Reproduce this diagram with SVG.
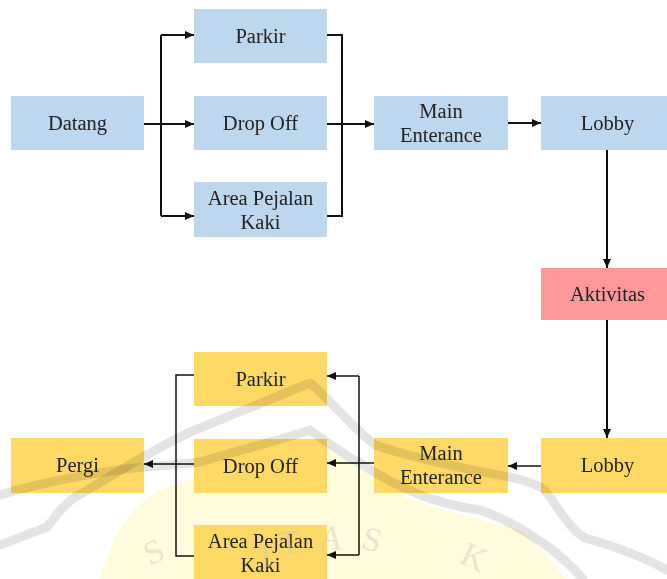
<svg xmlns="http://www.w3.org/2000/svg" width="667" height="579" viewBox="0 0 667 579">
  <style>
    .label { font-family: 'Liberation Serif', Tinos, 'Times New Roman', Times, 'DejaVu Serif', serif; font-size: 20.5px; fill: #222; text-anchor: middle; }
    .blue { fill: #BDD7EE; }
    .yellow { fill: #FFD966; }
    .red { fill: #FF9999; }
    .top path { fill: none; stroke: #111; stroke-width: 2; }
    .bottom path { fill: none; stroke: #111; stroke-width: 1.5; }
    .wm-band { fill: none; stroke: #9c9c9c; stroke-width: 9; stroke-linecap: round; stroke-linejoin: round; opacity: 0.28; mix-blend-mode: multiply; }
    .wm-letter { font-family: 'Liberation Serif', 'DejaVu Serif', serif; font-size: 34px; fill: #c4c4c4; opacity: 0.4; }
  </style>
  <defs>
    <marker id="arrow" viewBox="0 0 9 8" refX="9" refY="4" markerWidth="9" markerHeight="8" markerUnits="userSpaceOnUse" orient="auto">
      <path d="M0,0 L9,4 L0,8 z" fill="#111"/>
    </marker>
  </defs>

  <rect width="667" height="579" fill="#ffffff"/>

  <!-- faint background emblem -->
  <g id="watermark-fill">
    <path d="M100,579 C110,540 130,505 160,490 C200,475 260,455 310,440 C340,455 370,475 400,495 C440,510 480,520 520,530 C540,545 555,565 565,579 Z" fill="#FFFAD6" opacity="0.85"/>
  </g>

  <!-- nodes, first half -->
  <g id="datang"><rect class="blue" x="11" y="96" width="133" height="54"/><text class="label" x="77.5" y="130">Datang</text></g>
  <g id="parkir-in"><rect class="blue" x="194" y="9" width="133" height="54"/><text class="label" x="260.5" y="43">Parkir</text></g>
  <g id="dropoff-in"><rect class="blue" x="194" y="96" width="133" height="54"/><text class="label" x="260.5" y="130">Drop Off</text></g>
  <g id="pejalan-in"><rect class="blue" x="194" y="182" width="133" height="55"/><text class="label" x="260.5" y="204.5">Area Pejalan</text><text class="label" x="260.5" y="228.5">Kaki</text></g>
  <g id="main-in"><rect class="blue" x="374" y="96" width="134" height="54"/><text class="label" x="441" y="118">Main</text><text class="label" x="441" y="142">Enterance</text></g>
  <g id="lobby-in"><rect class="blue" x="541" y="96" width="133" height="54"/><text class="label" x="607.5" y="130">Lobby</text></g>

  <g id="aktivitas"><rect class="red" x="541" y="268" width="133" height="52"/><text class="label" x="607.5" y="301">Aktivitas</text></g>

  <!-- nodes, second half -->
  <g id="lobby-out"><rect class="yellow" x="541" y="438" width="133" height="55"/><text class="label" x="607.5" y="472">Lobby</text></g>
  <g id="main-out"><rect class="yellow" x="374" y="438" width="134" height="55"/><text class="label" x="441" y="460">Main</text><text class="label" x="441" y="484">Enterance</text></g>
  <g id="parkir-out"><rect class="yellow" x="194" y="352" width="133" height="54"/><text class="label" x="260.5" y="386">Parkir</text></g>
  <g id="dropoff-out"><rect class="yellow" x="194" y="439" width="133" height="54"/><text class="label" x="260.5" y="473">Drop Off</text></g>
  <g id="pejalan-out"><rect class="yellow" x="194" y="525" width="133" height="54"/><text class="label" x="260.5" y="547.5">Area Pejalan</text><text class="label" x="260.5" y="571.5">Kaki</text></g>
  <g id="pergi"><rect class="yellow" x="11" y="438" width="133" height="55"/><text class="label" x="77.5" y="472">Pergi</text></g>

  <!-- connectors -->
  <g id="connectors">
    <g class="top">
      <path d="M144,124 H194" marker-end="url(#arrow)"/>
      <path d="M161,35 V216"/>
      <path d="M161,35 H194" marker-end="url(#arrow)"/>
      <path d="M161,216 H194" marker-end="url(#arrow)"/>
      <path d="M327,35 H342 V216 H327"/>
      <path d="M327,124 H374" marker-end="url(#arrow)"/>
      <path d="M508,123 H541" marker-end="url(#arrow)"/>
      <path d="M607,150 V268" marker-end="url(#arrow)"/>
      <path d="M607,320 V438" marker-end="url(#arrow)"/>
    </g>
    <g class="bottom">
      <path d="M541,466 H508" marker-end="url(#arrow)"/>
      <path d="M374,463 H327" marker-end="url(#arrow)"/>
      <path d="M359,376 V555"/>
      <path d="M359,376 H327" marker-end="url(#arrow)"/>
      <path d="M359,555 H327" marker-end="url(#arrow)"/>
      <path d="M194,375 H176 V556 H194"/>
      <path d="M194,464 H144" marker-end="url(#arrow)"/>
    </g>
  </g>

  <!-- faint background emblem outlines and lettering -->
  <g id="watermark">
    <path class="wm-band" d="M0,545 L47,527 C60,510 70,498 83,493 C120,470 170,440 200,428 C240,412 280,395 310,383 C330,400 350,425 375,445 C420,460 470,470 510,477 C530,482 540,486 545,490 C560,510 570,530 585,538 C610,545 640,555 667,570"/>
    <path class="wm-band" d="M0,495 C50,480 110,470 145,467 C170,465 190,463 200,462 C240,450 280,440 310,430 C330,445 345,455 360,463 C400,490 440,505 480,510 C510,520 530,535 543,543 C560,555 575,570 583,579"/>
    <text class="wm-letter" transform="translate(150,566) rotate(-25)">S</text>
    <text class="wm-letter" transform="translate(262,568) rotate(-8)">I</text>
    <text class="wm-letter" transform="translate(280,555) rotate(-5)">T</text>
    <text class="wm-letter" transform="translate(318,548) rotate(5)">A</text>
    <text class="wm-letter" transform="translate(360,548) rotate(15)">S</text>
    <text class="wm-letter" transform="translate(458,562) rotate(25)">K</text>
  </g>
</svg>
